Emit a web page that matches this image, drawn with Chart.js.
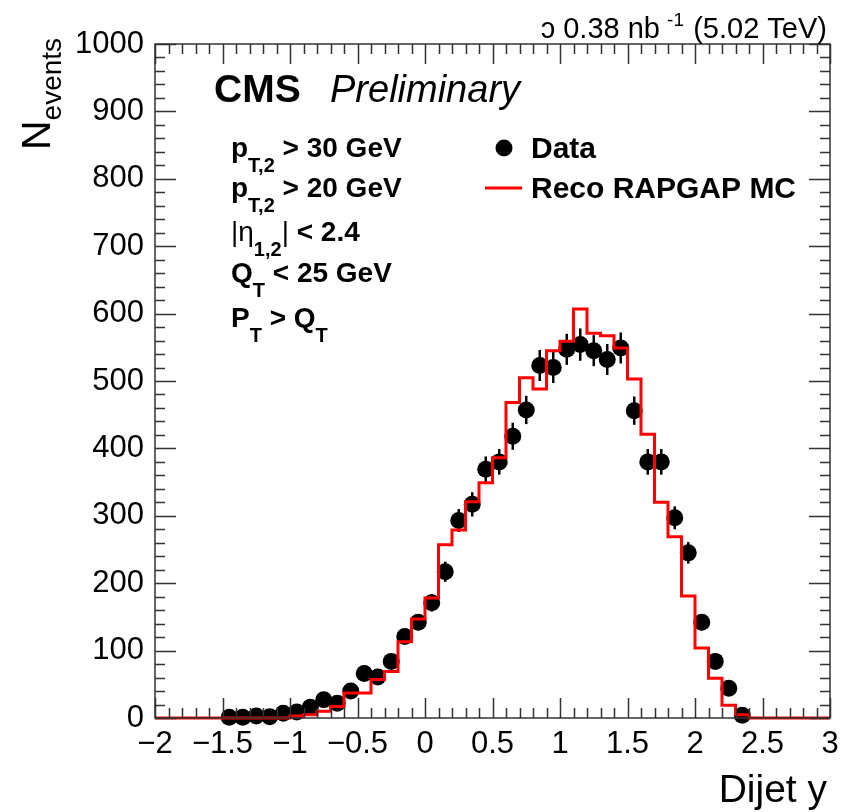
<!DOCTYPE html>
<html><head><meta charset="utf-8">
<script src="https://cdn.jsdelivr.net/npm/chart.js@4.4.0/dist/chart.umd.min.js"></script>
<style>html,body{margin:0;padding:0;background:#fff;}#wrap{width:852px;height:812px;}</style>
</head><body><div id="wrap"><canvas id="c" width="852" height="812"></canvas></div>
<script>
// ---- data ----
const dataX = [-1.45,-1.35,-1.25,-1.15,-1.05,-0.95,-0.85,-0.75,-0.65,-0.55,-0.45,-0.35,-0.25,-0.15,-0.05,
  0.05,0.15,0.25,0.35,0.45,0.55,0.65,0.75,0.85,0.95,1.05,1.15,1.25,1.35,1.45,1.55,1.65,1.75,1.85,1.95,2.05,2.15,2.25,2.35];
const dataY = [1,1,3,2,7,9,16,27,22,40,66,61,84,121,142,
  171,217,293,317,369,380,418,457,523,520,547,554,545,532,549,456,380,380,297,245,142,84,44,4];
const dataErr = [1,1,2,1,3,3,4,5,5,6,8,8,9,11,12,
  13,15,17,18,19,19,20,21,23,23,23,24,23,23,23,21,19,19,17,16,12,9,7,2];
const mcBinLow = [-2.0,-1.9,-1.8,-1.7,-1.6,-1.5,-1.4,-1.3,-1.2,-1.1,-1.0,-0.9,-0.8,-0.7,-0.6,-0.5,-0.4,-0.3,-0.2,-0.1,
  0.0,0.1,0.2,0.3,0.4,0.5,0.6,0.7,0.8,0.9,1.0,1.1,1.2,1.3,1.4,1.5,1.6,1.7,1.8,1.9,2.0,2.1,2.2,2.3,2.4,2.5,2.6,2.7,2.8,2.9];
const mcBinHighLast = 3.0;
const mcValues = [0,0,0,0,0,0,0,0,0,0,3,5,10,17,37,37,57,69,113,147,
  178,257,279,321,349,386,468,505,488,545,559,607,571,567,549,503,421,320,269,181,104,59,19,5,0,0,0,0,0,0];
const xTickValues = [-2,-1.5,-1,-0.5,0,0.5,1,1.5,2,2.5,3];
const yTickValues = [0,100,200,300,400,500,600,700,800,900,1000];
const xMin = -2, xMax = 3, yMin = 0, yMax = 1000;
const xMinorStep = 0.1, yMinorStep = 20;

const FONT = "'Liberation Sans', Arial, Helvetica, sans-serif";

const mcPoints = mcBinLow.map((x,i)=>({x:x, y:mcValues[i]}));
mcPoints.push({x:mcBinHighLast, y:mcValues[mcValues.length-1]});
const dataPoints = dataX.map((x,i)=>({x:x, y:dataY[i]}));

function fmtTick(v){ const s = String(v); return v<0 ? '\u2212'+s.slice(1) : s; }

function drawRich(ctx, x, y, segs){
  let cx = x;
  for(const s of segs){
    ctx.font = s.font;
    ctx.fillText(s.text, cx, y + (s.dy||0));
    cx += ctx.measureText(s.text).width;
  }
}

const decor = {
  id:'decor',
  beforeDatasetsDraw(chart){
    const ctx = chart.ctx, xs = chart.scales.x, ys = chart.scales.y;
    ctx.save();
    ctx.strokeStyle = '#000'; ctx.lineWidth = 2.5;
    dataX.forEach((x,i)=>{
      const px = xs.getPixelForValue(x);
      ctx.beginPath();
      ctx.moveTo(px, ys.getPixelForValue(dataY[i]-dataErr[i]));
      ctx.lineTo(px, ys.getPixelForValue(dataY[i]+dataErr[i]));
      ctx.stroke();
    });
    ctx.restore();
  },
  afterDraw(chart){
    const ctx = chart.ctx, xs = chart.scales.x, ys = chart.scales.y, a = chart.chartArea;
    ctx.save();
    // frame
    ctx.strokeStyle = '#333'; ctx.lineWidth = 1.5;
    ctx.strokeRect(a.left, a.top, a.right-a.left, a.bottom-a.top);
    // ticks
    ctx.beginPath();
    for(let k=0; xMin + k*xMinorStep <= xMax + 1e-9; k++){
      const v = xMin + k*xMinorStep;
      const major = xTickValues.some(t=>Math.abs(t-v)<1e-6);
      const len = major ? 20 : 10;
      const px = Math.round(xs.getPixelForValue(v))+0.5;
      ctx.moveTo(px, a.bottom); ctx.lineTo(px, a.bottom-len);
      ctx.moveTo(px, a.top); ctx.lineTo(px, a.top+len);
    }
    for(let k=0; yMin + k*yMinorStep <= yMax + 1e-9; k++){
      const v = yMin + k*yMinorStep;
      const major = yTickValues.some(t=>Math.abs(t-v)<1e-6);
      const len = major ? 21 : 10;
      const py = Math.round(ys.getPixelForValue(v))+0.5;
      ctx.moveTo(a.left, py); ctx.lineTo(a.left+len, py);
      ctx.moveTo(a.right, py); ctx.lineTo(a.right-len, py);
    }
    ctx.stroke();

    ctx.fillStyle = '#000';
    ctx.textBaseline = 'alphabetic';
    // x title
    ctx.textAlign = 'right';
    ctx.font = `39px ${FONT}`;
    ctx.fillText('Dijet y', 827, 802);
    // y title (rotated)
    ctx.save();
    ctx.translate(50, 150);
    ctx.rotate(-Math.PI/2);
    ctx.textAlign = 'left';
    ctx.font = `41px ${FONT}`;
    ctx.fillText('N', 0, 0);
    const wN = ctx.measureText('N').width;
    ctx.font = `28px ${FONT}`;
    ctx.fillText('events', wN, 11);
    ctx.restore();

    // top-right luminosity text
    ctx.textAlign = 'right';
    ctx.font = `29px ${FONT}`;
    ctx.fillText('(5.02 TeV)', 827, 38);
    ctx.font = `19px ${FONT}`;
    ctx.fillText('-1', 684, 26);
    ctx.font = `29px ${FONT}`;
    ctx.fillText('\u0254 0.38 nb', 660, 38);

    // CMS Preliminary
    ctx.textAlign = 'left';
    ctx.font = `bold 39px ${FONT}`;
    ctx.fillText('CMS', 214, 102);
    ctx.font = `italic 38px ${FONT}`;
    ctx.fillText('Preliminary', 330, 102);

    // selection text
    const B = `bold 28px ${FONT}`, S = `bold 20px ${FONT}`, R = `28px ${FONT}`;
    const tx = 231, sub = 15;
    drawRich(ctx, tx, 157, [{text:'p',font:B},{text:'T,2',font:S,dy:sub},{text:' > 30 GeV',font:B}]);
    drawRich(ctx, tx, 197, [{text:'p',font:B},{text:'T,2',font:S,dy:sub},{text:' > 20 GeV',font:B}]);
    drawRich(ctx, tx, 241, [{text:'|\u03b7',font:R},{text:'1,2',font:S,dy:sub},{text:'|',font:R},{text:' < 2.4',font:B}]);
    drawRich(ctx, tx, 282, [{text:'Q',font:B},{text:'T',font:S,dy:sub},{text:' < 25 GeV',font:B}]);
    drawRich(ctx, tx, 327, [{text:'P',font:B},{text:'T',font:S,dy:sub},{text:' > Q',font:B},{text:'T',font:S,dy:sub}]);

    // legend
    ctx.beginPath(); ctx.arc(504, 148, 8.5, 0, Math.PI*2); ctx.fill();
    ctx.strokeStyle = '#ff0000'; ctx.lineWidth = 3;
    ctx.beginPath(); ctx.moveTo(485, 188); ctx.lineTo(522, 188); ctx.stroke();
    ctx.font = `bold 30px ${FONT}`;
    ctx.fillText('Data', 531, 158);
    ctx.fillText('Reco RAPGAP MC', 531, 198);
    ctx.restore();
  }
};

new Chart(document.getElementById('c'), {
  type: 'scatter',
  data: {
    datasets: [
      { type:'line', label:'Reco RAPGAP MC', data: mcPoints, stepped:'before', borderColor:'#ff0000',
        borderWidth:3, pointRadius:0, fill:false, order:0, clip:false },
      { type:'scatter', label:'Data', data: dataPoints, pointRadius:8.5, pointBackgroundColor:'#000',
        pointBorderColor:'#000', pointBorderWidth:0, order:1, clip:false }
    ]
  },
  options: {
    responsive:false, animation:false, devicePixelRatio:1,
    layout:{ padding:{ left:0, top:44, right:22, bottom:0 } },
    plugins:{ legend:{display:false}, tooltip:{enabled:false} },
    scales:{
      x:{ type:'linear', min:xMin, max:xMax,
        afterBuildTicks(s){ s.ticks = xTickValues.map(v=>({value:v})); },
        afterFit(s){ s.height = 94; },
        ticks:{ callback:(v)=>fmtTick(v), font:{family:FONT, size:31}, color:'#000', padding:8, maxRotation:0, autoSkip:false },
        grid:{ display:false, drawTicks:false }, border:{ display:false } },
      y:{ type:'linear', min:yMin, max:yMax,
        afterBuildTicks(s){ s.ticks = yTickValues.map(v=>({value:v})); },
        afterFit(s){ s.width = 155; },
        ticks:{ callback:(v)=>String(v), font:{family:FONT, size:31}, color:'#000', padding:11, autoSkip:false },
        grid:{ display:false, drawTicks:false }, border:{ display:false } }
    }
  },
  plugins:[decor]
});
</script></body></html>
